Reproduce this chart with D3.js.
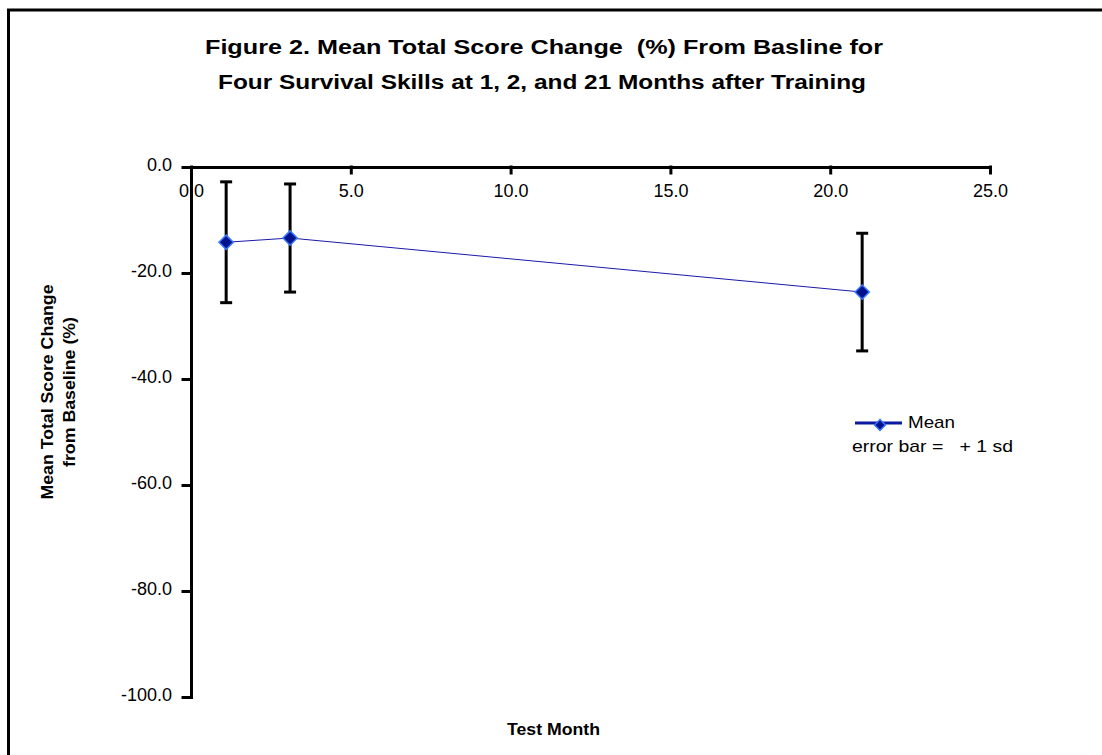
<!doctype html>
<html lang="en">
<head>
 <meta charset="utf-8">
 <title>Mean Total Score Change</title>
 <style>
 body{margin:0;background:#fff;}
 svg{display:block;font-family:"Liberation Sans",Arial,sans-serif;}
 </style>
 <script src="https://cdnjs.cloudflare.com/ajax/libs/d3/7.8.5/d3.min.js"></script>
</head>
<body>
 <svg width="1102" height="755"></svg>
 <script>

 // data
 const months=[1.1,3.1,21.0];
 const means=[-14.2,-13.4,-23.6];
 const sds=[11.4,10.2,11.1];
 const xTicks=[0,5,10,15,20,25];
 const yTicks=[0,-20,-40,-60,-80,-100];

 const svg=d3.select("svg");

 // the original figure's text is drawn wider than the font, so stretch it to the measured width
 function stretch(sel,w){
 sel.attr("textLength",w).attr("lengthAdjust","spacingAndGlyphs");
 }

 // outer chart border
 svg.append("rect")
 .attr("x",8.5)
 .attr("y",10)
 .attr("width",1110)
 .attr("height",760)
 .attr("fill","none")
 .attr("stroke","#000")
 .attr("stroke-width",3);

 const xScale=d3.scaleLinear()
 .domain([0,25])
 .range([191,990]);

 const yScale=d3.scaleLinear()
 .domain([-100,0])
 .range([697,167]);

 const fmt=d=>d.toFixed(1);

 // title
 const title=svg.append("g")
 .style("font-size","20px")
 .style("font-weight","bold");
 title.append("text").attr("x",205).attr("y",54)
 .attr("xml:space","preserve")
 .text("Figure 2. Mean Total Score Change  (%) From Basline for")
 .call(stretch,678);
 title.append("text").attr("x",218).attr("y",89)
 .text("Four Survival Skills at 1, 2, and 21 Months after Training")
 .call(stretch,648);

 // y axis
 const yAxis=d3.axisLeft(yScale)
 .tickValues(yTicks)
 .tickSize(8)
 .tickSizeOuter(0)
 .tickPadding(11)
 .tickFormat(fmt);

 const gy=svg.append("g")
 .attr("class","yAxis")
 .attr("transform",`translate(${xScale(0)},0)`)
 .call(yAxis);
 gy.selectAll("text").style("font-size","18px").style("font-family","Liberation Sans, Arial, sans-serif").attr("dy","0.2em").attr("fill","#000");

 // x axis along y = 0
 const xAxis=d3.axisBottom(xScale)
 .tickValues(xTicks)
 .tickSize(6)
 .tickSizeOuter(0)
 .tickPadding(11)
 .tickFormat(fmt);

 const gx=svg.append("g")
 .attr("class","xAxis")
 .attr("transform",`translate(0,${yScale(0)})`)
 .call(xAxis);
 gx.selectAll("text").style("font-size","18px").style("font-family","Liberation Sans, Arial, sans-serif").attr("fill","#000");

 svg.selectAll(".domain,.tick line")
 .attr("stroke","#000")
 .attr("stroke-width",3)
 .attr("stroke-linecap","square");

 // axis titles
 const yt=svg.append("g")
 .attr("transform","translate(53,392) rotate(-90)")
 .attr("text-anchor","middle")
 .style("font-size","17px")
 .style("font-weight","bold");
 yt.append("text").attr("x",0).attr("y",0).text("Mean Total Score Change").call(stretch,215);
 yt.append("text").attr("x",0).attr("y",22).text("from Baseline (%)").call(stretch,150);

 svg.append("text")
 .attr("x",507)
 .attr("y",735)
 .style("font-size","17px")
 .style("font-weight","bold")
 .text("Test Month")
 .call(stretch,93);

 const pts=months.map((m,i)=>({m:m,v:means[i],sd:sds[i]}));

 // error bars
 const eb=svg.append("g").attr("class","errorbars");
 pts.forEach(d=>{
 const x=xScale(d.m);
 eb.append("line")
 .attr("x1",x).attr("x2",x)
 .attr("y1",yScale(d.v+d.sd)).attr("y2",yScale(d.v-d.sd))
 .attr("stroke","#000").attr("stroke-width",3);
 [d.v+d.sd,d.v-d.sd].forEach(v=>{
 eb.append("line")
 .attr("x1",x-6).attr("x2",x+6)
 .attr("y1",yScale(v)).attr("y2",yScale(v))
 .attr("stroke","#000").attr("stroke-width",3);
 });
 });

 // mean line
 const line=d3.line()
 .x(d=>xScale(d.m))
 .y(d=>yScale(d.v));

 svg.append("path")
 .datum(pts)
 .attr("d",line)
 .attr("fill","none")
 .attr("stroke","#1a1aa8")
 .attr("stroke-width",1);

 const diamond=d3.symbol().type(d3.symbolDiamond2).size(130);

 svg.append("g")
 .selectAll("path")
 .data(pts)
 .enter()
 .append("path")
 .attr("d",diamond)
 .attr("transform",d=>`translate(${xScale(d.m)},${yScale(d.v)})`)
 .attr("fill","#00138c")
 .attr("stroke","#3a78ff")
 .attr("stroke-width",1.5);

 // legend
 const lg=svg.append("g").attr("class","legend");
 lg.append("line")
 .attr("x1",855).attr("x2",902)
 .attr("y1",423).attr("y2",423)
 .attr("stroke","#0a1aa0").attr("stroke-width",3);
 lg.append("path")
 .attr("d",d3.symbol().type(d3.symbolDiamond2).size(75))
 .attr("transform","translate(880,425)")
 .attr("fill","#00138c")
 .attr("stroke","#3a78ff")
 .attr("stroke-width",1.5);
 lg.append("text")
 .attr("x",908).attr("y",428)
 .style("font-size","17px")
 .text("Mean")
 .call(stretch,47);
 lg.append("text")
 .attr("x",852).attr("y",452)
 .style("font-size","17px")
 .attr("xml:space","preserve")
 .text("error bar =   + 1 sd")
 .call(stretch,161);

 </script>
</body>
</html>
